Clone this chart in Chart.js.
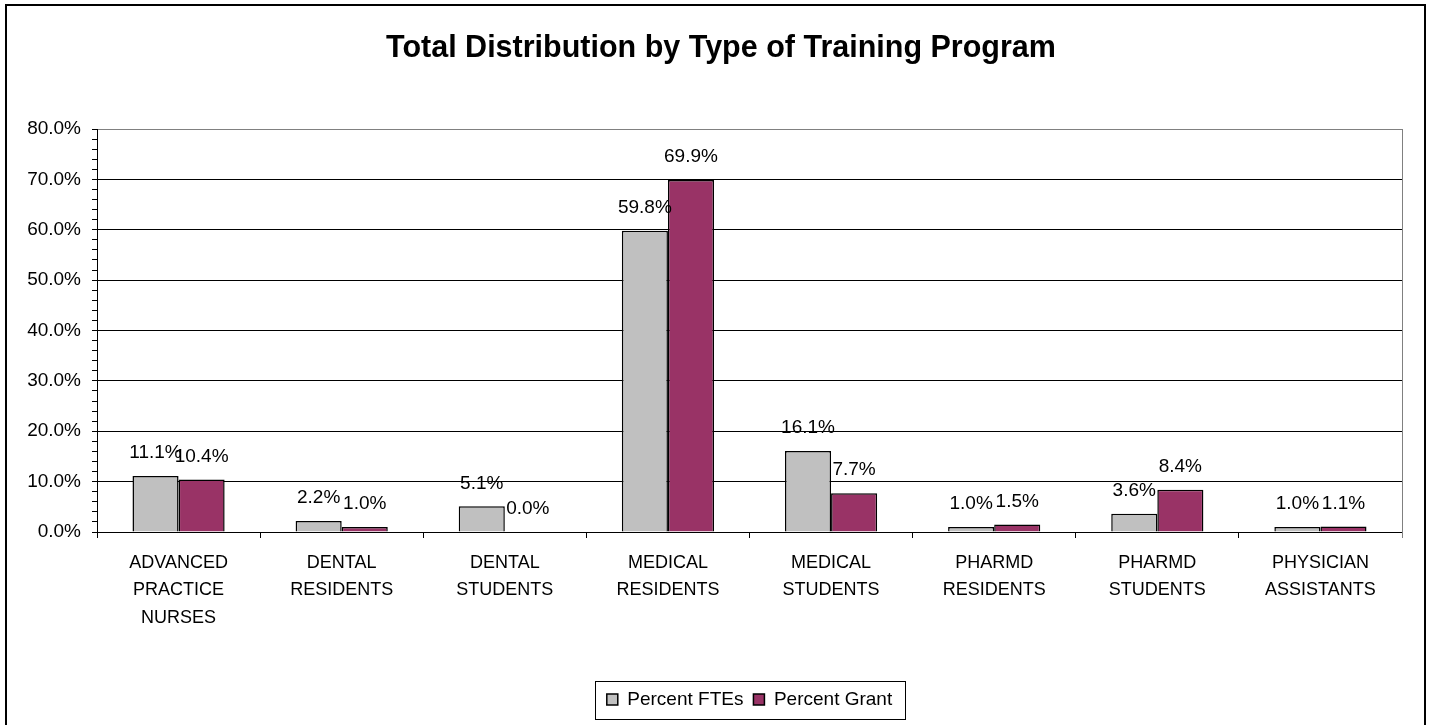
<!DOCTYPE html>
<html>
<head>
<meta charset="utf-8">
<title>Total Distribution by Type of Training Program</title>
<script src="https://cdn.jsdelivr.net/npm/chart.js@4.4.1/dist/chart.umd.min.js"></script>
<style>
  html, body { margin: 0; padding: 0; background: #fff; }
  #wrap { position: relative; width: 1430px; height: 725px; }
</style>
</head>
<body>
<div id="wrap"><canvas id="myChart" width="1430" height="725"></canvas></div>
<script>
const FONT = '"Liberation Sans", Arimo, sans-serif';

const categories = [
    ['ADVANCED', 'PRACTICE', 'NURSES'],
    ['DENTAL', 'RESIDENTS'],
    ['DENTAL', 'STUDENTS'],
    ['MEDICAL', 'RESIDENTS'],
    ['MEDICAL', 'STUDENTS'],
    ['PHARMD', 'RESIDENTS'],
    ['PHARMD', 'STUDENTS'],
    ['PHYSICIAN', 'ASSISTANTS']
];
const percentFtes = [11.1, 2.2, 5.1, 59.8, 16.1, 1.0, 3.6, 1.0];
const percentGrant = [10.4, 1.0, 0.0, 69.9, 7.7, 1.5, 8.4, 1.1];
const yMin = 0;
const yMax = 80;
const yMinorStep = 2;
const yMajorStep = 10;

// outer frame, right border of plot area, legend box
const framePlugin = {
    id: 'frame',
    afterLayout(chart) {
        // centre the title a little right of the canvas middle, like the original
        chart.titleBlock.left += 40;
    },
    beforeDraw(chart) {
        const c = chart.ctx;
        c.save();
        c.fillStyle = '#fff';
        c.fillRect(0, 0, chart.width, chart.height);
        c.strokeStyle = '#000';
        c.lineWidth = 2;
        c.beginPath();
        c.moveTo(6, chart.height + 5);
        c.lineTo(6, 5);
        c.lineTo(1425, 5);
        c.lineTo(1425, chart.height + 5);
        c.stroke();
        c.restore();
    },
    afterDraw(chart) {
        const c = chart.ctx;
        const a = chart.chartArea;
        c.save();
        c.strokeStyle = '#808080';
        c.lineWidth = 1;
        c.beginPath();
        c.moveTo(Math.round(a.right) + 0.5, a.top);
        c.lineTo(Math.round(a.right) + 0.5, a.bottom + 6);
        c.stroke();

        const boxes = chart.legend.legendHitBoxes;
        if (boxes && boxes.length) {
            const l = Math.min(...boxes.map(b => b.left)) - 12;
            const r = Math.max(...boxes.map(b => b.left + b.width)) + 13;
            const cy = boxes[0].top + boxes[0].height / 2;
            c.strokeStyle = '#000';
            c.strokeRect(Math.round(l) + 0.5, Math.round(cy - 19) + 0.5, Math.round(r - l), 38);
        }
        c.restore();
    }
};

// value labels above bars
const valueLabels = {
    id: 'valueLabels',
    afterDatasetsDraw(chart) {
        const c = chart.ctx;
        c.save();
        c.font = '19px ' + FONT;
        c.fillStyle = '#000';
        c.textAlign = 'center';
        c.textBaseline = 'middle';
        chart.data.datasets.forEach((ds, i) => {
            chart.getDatasetMeta(i).data.forEach((bar, j) => {
                c.fillText(ds.data[j].toFixed(1) + '%', bar.x, bar.y - 23);
            });
        });
        c.restore();
    }
};

const ctx = document.getElementById('myChart').getContext('2d');

new Chart(ctx, {
    type: 'bar',
    data: {
        labels: categories,
        datasets: [{
            label: 'Percent FTEs',
            data: percentFtes,
            backgroundColor: '#C0C0C0',
            borderColor: '#000',
            borderWidth: 1.5
        }, {
            label: 'Percent Grant',
            data: percentGrant,
            backgroundColor: '#993366',
            borderColor: '#000',
            borderWidth: 1.5
        }]
    },
    options: {
        responsive: false,
        animation: false,
        events: [],
        datasets: {
            bar: { categoryPercentage: 0.565, barPercentage: 1.0 }
        },
        layout: { padding: { left: 0, right: 28, top: 0, bottom: 6 } },
        plugins: {
            title: {
                display: true,
                text: 'Total Distribution by Type of Training Program',
                color: '#000',
                font: { family: FONT, size: 30.5, weight: 'bold' },
                padding: { top: 30, bottom: 62.4 }
            },
            legend: {
                position: 'bottom',
                fullSize: false,
                labels: {
                    color: '#000',
                    font: { family: FONT, size: 19 },
                    boxWidth: 11,
                    boxHeight: 11,
                    padding: 10
                }
            },
            tooltip: { enabled: false }
        },
        scales: {
            x: {
                grid: {
                    offset: true,
                    drawOnChartArea: false,
                    color: '#000',
                    tickLength: 6
                },
                border: { color: '#000' },
                ticks: {
                    color: '#000',
                    font: { family: FONT, size: 18, lineHeight: 1.53 },
                    maxRotation: 0,
                    autoSkip: false,
                    padding: 11
                },
                afterFit(scale) { scale.height = 148; }
            },
            y: {
                min: yMin,
                max: yMax,
                grid: {
                    color: c => c.tick.value === yMax ? '#808080'
                        : (c.tick.value % yMajorStep === 0 ? '#000' : 'rgba(0,0,0,0)'),
                    tickColor: '#000',
                    tickLength: 5
                },
                border: { color: '#000' },
                ticks: {
                    stepSize: yMinorStep,
                    autoSkip: false,
                    color: '#000',
                    font: { family: FONT, size: 19 },
                    padding: 11,
                    callback: v => v % yMajorStep === 0 ? v.toFixed(1) + '%' : ''
                },
                afterFit(scale) { scale.width = 97; }
            }
        }
    },
    plugins: [framePlugin, valueLabels]
});
</script>
</body>
</html>
